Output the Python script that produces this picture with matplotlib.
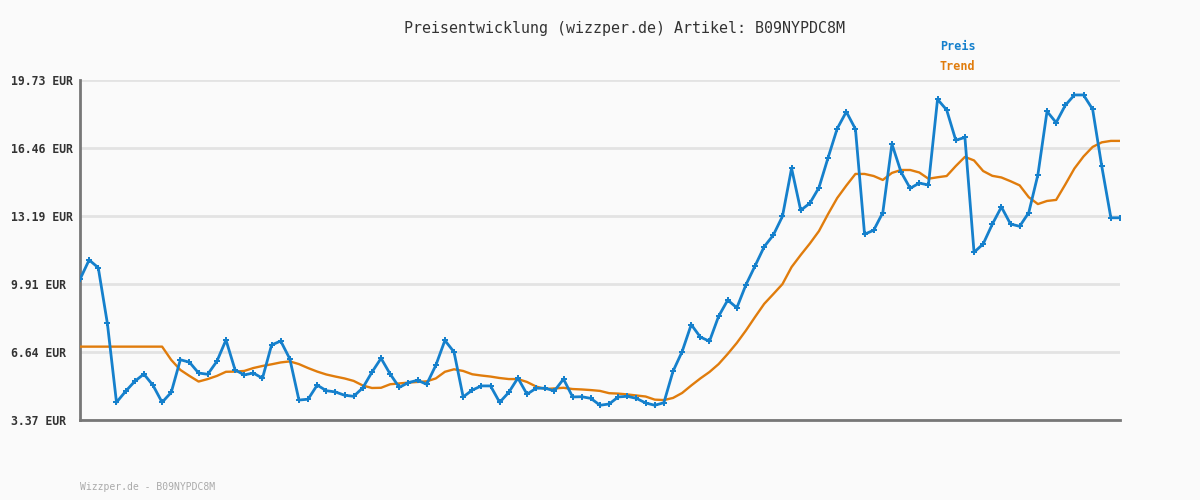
import matplotlib
matplotlib.use("Agg")
import matplotlib.pyplot as plt

# price history (EUR)
preis = [
    10.14, 11.07, 10.70, 8.02, 4.22, 4.75, 5.23, 5.58, 5.04, 4.22,
    4.70, 6.27, 6.15, 5.63, 5.57, 6.19, 7.22, 5.78, 5.54, 5.63,
    5.38, 6.98, 7.17, 6.31, 4.33, 4.37, 5.05, 4.78, 4.72, 4.56,
    4.51, 4.92, 5.67, 6.34, 5.58, 4.94, 5.17, 5.28, 5.09, 6.00,
    7.20, 6.64, 4.48, 4.81, 5.01, 5.01, 4.22, 4.70, 5.39, 4.61,
    4.90, 4.90, 4.77, 5.34, 4.48, 4.49, 4.41, 4.08, 4.14, 4.48,
    4.51, 4.41, 4.19, 4.08, 4.20, 5.71, 6.66, 7.96, 7.36, 7.16,
    8.36, 9.14, 8.77, 9.88, 10.79, 11.71, 12.27, 13.17, 15.48, 13.46,
    13.80, 14.55, 15.99, 17.39, 18.20, 17.37, 12.31, 12.50, 13.35, 16.65,
    15.30, 14.52, 14.77, 14.68, 18.80, 18.29, 16.83, 16.97, 11.44, 11.84,
    12.79, 13.62, 12.80, 12.69, 13.35, 15.17, 18.22, 17.68, 18.51, 19.01,
    19.01, 18.32, 15.58, 13.10, 13.10,
]

trend = [
    6.90, 6.90, 6.90, 6.90, 6.90, 6.90, 6.90, 6.90, 6.90, 6.90,
    6.26, 5.78, 5.49, 5.22, 5.34, 5.49, 5.69, 5.70, 5.73, 5.87,
    5.97, 6.05, 6.14, 6.19, 6.06, 5.87, 5.70, 5.56, 5.46, 5.37,
    5.25, 5.03, 4.91, 4.92, 5.09, 5.13, 5.17, 5.20, 5.23, 5.37,
    5.69, 5.81, 5.73, 5.57, 5.51, 5.46, 5.39, 5.34, 5.34, 5.20,
    4.98, 4.86, 4.89, 4.92, 4.86, 4.84, 4.81, 4.77, 4.66, 4.64,
    4.60, 4.55, 4.50, 4.35, 4.33, 4.43, 4.67, 5.03, 5.37, 5.68,
    6.06, 6.55, 7.08, 7.68, 8.33, 8.96, 9.43, 9.91, 10.73, 11.31,
    11.86, 12.46, 13.28, 14.05, 14.65, 15.21, 15.21, 15.11, 14.92, 15.26,
    15.40, 15.40, 15.28, 14.98, 15.05, 15.11, 15.59, 16.03, 15.86, 15.35,
    15.12, 15.04, 14.86, 14.66, 14.09, 13.76, 13.91, 13.96, 14.70, 15.47,
    16.05, 16.51, 16.73, 16.80, 16.80,
]

y_ticks = [3.37, 6.64, 9.91, 13.19, 16.46, 19.73]
y_labels = ["3.37 EUR", "6.64 EUR", "9.91 EUR", "13.19 EUR", "16.46 EUR", "19.73 EUR"]

blue = "#1580cc"
orange = "#e07c0c"
bg = "#fafafa"
mono = ["DejaVu Sans Mono"]

fig = plt.figure(figsize=(12, 5), dpi=100, facecolor=bg)
ax = fig.add_axes([80 / 1200, 0.16, 1040 / 1200, 0.68], facecolor=bg)

x = range(len(preis))
ax.plot(x, trend, color=orange, lw=1.7, zorder=3)
ax.plot(x, preis, color=blue, lw=2.0, marker="P", ms=4.5, mew=0, zorder=4)

ax.set_xlim(0, len(preis) - 1)
ax.set_ylim(y_ticks[0], y_ticks[-1])
ax.set_yticks(y_ticks)
ax.set_yticklabels(y_labels, family=mono, fontsize=8.3, fontweight="bold", color="#333333")
for lbl in ax.get_yticklabels():
    lbl.set_horizontalalignment("left")
ax.tick_params(axis="y", length=0, pad=50)
ax.set_xticks([])
ax.grid(axis="y", color="#e3e3e3", lw=2)
ax.set_axisbelow(True)

for side in ["top", "right"]:
    ax.spines[side].set_visible(False)
for side in ["left", "bottom"]:
    ax.spines[side].set_color("#777777")
    ax.spines[side].set_linewidth(2)

fig.text(0.52, 1 - 28 / 500, "Preisentwicklung (wizzper.de) Artikel: B09NYPDC8M",
         ha="center", va="center", family=mono, fontsize=10.8, color="#333333")
fig.text(940 / 1200, 1 - 46 / 500, "Preis", ha="left", va="center",
         family=mono, fontsize=8.5, fontweight="bold", color=blue)
fig.text(940 / 1200, 1 - 67 / 500, "Trend", ha="left", va="center",
         family=mono, fontsize=8.5, fontweight="bold", color=orange)
fig.text(80 / 1200, 1 - 487 / 500, "Wizzper.de - B09NYPDC8M", ha="left", va="center",
         family=mono, fontsize=7, color="#aaaaaa")

fig.savefig("out.png", dpi=100, facecolor=bg)
